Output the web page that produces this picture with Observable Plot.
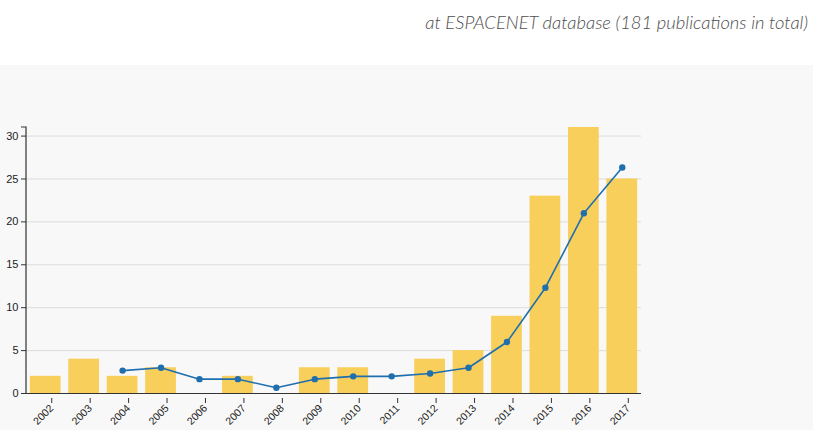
<!DOCTYPE html>
<html>
<head>
<meta charset="utf-8">
<script src="https://cdn.jsdelivr.net/npm/d3@7"></script>
<script src="https://cdn.jsdelivr.net/npm/@observablehq/plot@0.6"></script>
<style>
  html, body { margin: 0; padding: 0; background: #ffffff; }
  body { width: 813px; height: 430px; overflow: hidden; }
  #head {
    height: 65px;
    position: relative;
    background: #ffffff;
  }
  #subtitle {
    position: absolute;
    right: 5px;
    top: 11px;
    font-family: "Lato", "Open Sans", sans-serif;
    font-style: italic;
    font-weight: 300;
    font-size: 18.4px;
    color: #4e4e4e;
    white-space: nowrap;
  }
  #chart { background: #f8f8f8; height: 365px; }
  #chart svg { display: block; }
</style>
</head>
<body>
<div id="head"><div id="subtitle">at ESPACENET database (181 publications in total)</div></div>
<div id="chart"></div>
<script>
// Publications per year
const years = ["2002","2003","2004","2005","2006","2007","2008","2009","2010","2011","2012","2013","2014","2015","2016","2017"];
const publications = [2, 4, 2, 3, 0, 2, 0, 3, 3, 0, 4, 5, 9, 23, 31, 25];

// Three-year trailing average (starts in 2004)
const avgYears = ["2004","2005","2006","2007","2008","2009","2010","2011","2012","2013","2014","2015","2016","2017"];
const avgValues = [2.67, 3, 1.67, 1.67, 0.67, 1.67, 2, 2, 2.33, 3, 6, 12.33, 21, 26.33];

const yTicks = [0, 5, 10, 15, 20, 25, 30];

const bars = years.map((year, i) => ({year, value: publications[i]}));
const avg = avgYears.map((year, i) => ({year, value: avgValues[i]}));

const chart = Plot.plot({
  width: 813,
  height: 365,
  marginTop: 62,
  marginBottom: 37,
  marginLeft: 26,
  marginRight: 172,
  style: {background: "transparent", fontFamily: "Liberation Sans, Arial, sans-serif", fontSize: "11px", color: "#222"},
  x: {domain: years, paddingInner: 0.2, paddingOuter: 0.1, round: false, label: null},
  y: {domain: [0, 31], label: null},
  marks: [
    Plot.gridY(yTicks.slice(1), {stroke: "#dcdcdc", strokeOpacity: 1, strokeWidth: 1}),
    Plot.barY(bars, {x: "year", y: "value", fill: "#f8cf5b"}),
    Plot.line(avg, {x: "year", y: "value", stroke: "#1f6fae", strokeWidth: 1.6}),
    Plot.dot(avg, {x: "year", y: "value", fill: "#1f6fae", r: 3.2}),
    Plot.axisX({tickRotate: -45, tickSize: 5, tickPadding: 3, stroke: "#333", fontSize: 10.5, textAnchor: "end", dx: 6, dy: 5}),
    Plot.axisY({ticks: yTicks, tickSize: 5, tickPadding: 3, stroke: "#333", fontSize: 11}),
    Plot.ruleY([0], {stroke: "#333", strokeWidth: 1.2})
  ]
});

// Left axis line from 0 up to the top of the domain, with an outer tick
document.getElementById("chart").appendChild(chart);
const yScale = chart.scale("y");
d3.select(chart).append("path")
  .attr("d", `M21,${yScale.apply(31)}H26V${yScale.apply(0)}`)
  .attr("fill", "none")
  .attr("stroke", "#333")
  .attr("stroke-width", 1.2);
</script>
</body>
</html>
